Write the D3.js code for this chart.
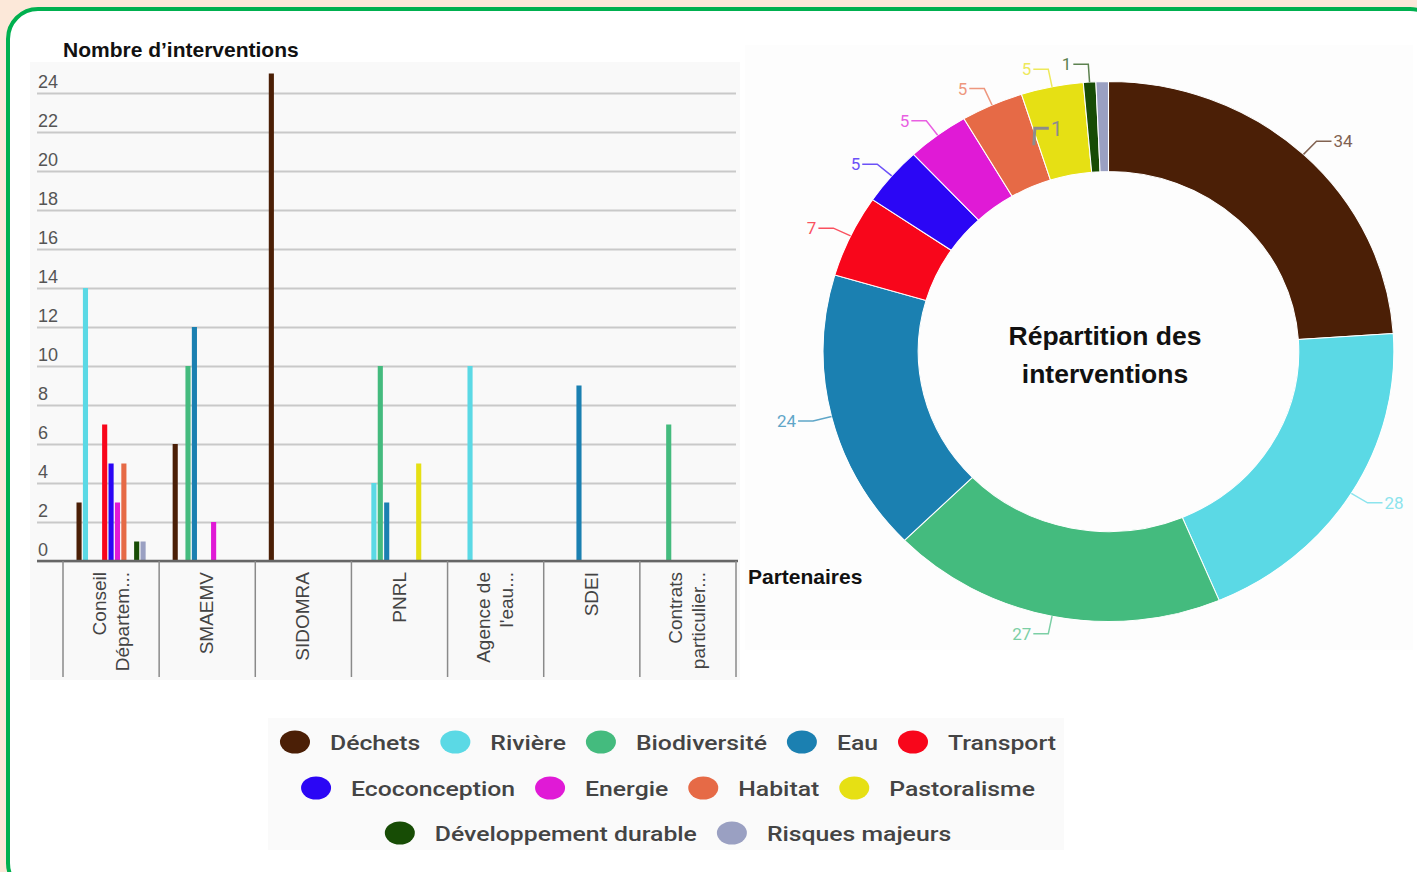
<!DOCTYPE html>
<html>
<head>
<meta charset="utf-8">
<script src="https://cdn.jsdelivr.net/npm/d3@7"></script>
<style>
  body { margin: 0; background: #fce8d9; }
  svg { display: block; }
</style>
</head>
<body>
<div id="chart"></div>
<script>
// partners on the x axis (labels as displayed, truncated)
const partners = ["Conseil Départem...", "SMAEMV", "SIDOMRA", "PNRL", "Agence de l'eau...", "SDEI", "Contrats particulier..."];

// themes (series) and their colours
const themes = ["Déchets", "Rivière", "Biodiversité", "Eau", "Transport", "Ecoconception",
  "Energie", "Habitat", "Pastoralisme", "Développement durable", "Risques majeurs"];
const colors = ["#4b1f06", "#5bd9e5", "#44bb7e", "#1b80b1", "#f8061b", "#2b06f5",
  "#e01ad6", "#e66a46", "#e6e014", "#174c05", "#9aa0c2"];

// interventions per theme, one value per partner
const dechets       = [3, 6, 25, 0, 0, 0, 0];
const riviere       = [14, 0, 0, 4, 10, 0, 0];
const biodiversite  = [0, 10, 0, 10, 0, 0, 7];
const eau           = [0, 12, 0, 3, 0, 9, 0];
const transport     = [7, 0, 0, 0, 0, 0, 0];
const ecoconception = [5, 0, 0, 0, 0, 0, 0];
const energie       = [3, 2, 0, 0, 0, 0, 0];
const habitat       = [5, 0, 0, 0, 0, 0, 0];
const pastoralisme  = [0, 0, 0, 5, 0, 0, 0];
const devDurable    = [1, 0, 0, 0, 0, 0, 0];
const risques       = [1, 0, 0, 0, 0, 0, 0];
const seriesValues = [dechets, riviere, biodiversite, eau, transport, ecoconception,
  energie, habitat, pastoralisme, devDurable, risques];

// donut totals (labels on the ring)
const totals = [34, 28, 27, 24, 7, 5, 5, 5, 5, 1, 1];

const yTicks = [0, 2, 4, 6, 8, 10, 12, 14, 16, 18, 20, 22, 24];
const legendRows = [[0, 1, 2, 3, 4], [5, 6, 7, 8], [9, 10]];

const W = 1417, H = 872;
const svg = d3.select("#chart").append("svg")
  .attr("width", W)
  .attr("height", H);

// frame
svg.append("rect").attr("width", W).attr("height", H).attr("fill", "#fce8d9");
svg.append("rect")
  .attr("x", 8).attr("y", 9)
  .attr("width", 1432).attr("height", 884)
  .attr("rx", 30)
  .attr("fill", "#fff")
  .attr("stroke", "#00b04f")
  .attr("stroke-width", 4);

// faint panel backgrounds
svg.append("rect").attr("x", 30).attr("y", 62).attr("width", 710).attr("height", 618).attr("fill", "#f9f9f9");
svg.append("rect").attr("x", 745).attr("y", 45).attr("width", 668).attr("height", 605).attr("fill", "#fdfdfd");
svg.append("rect").attr("x", 268).attr("y", 718).attr("width", 796).attr("height", 132).attr("fill", "#fafafa");

// ---------- bar chart ----------
const x = d3.scaleBand().domain(partners).range([63, 736]);
const xs = d3.scaleBand().domain(themes)
  .range([13.5, x.bandwidth() - 13.5])
  .paddingInner(0.2);
const y = d3.scaleLinear().domain([0, 24]).range([561, 93]);

// gridlines + tick labels
const yAxis = svg.append("g")
  .attr("transform", "translate(37,0)")
  .call(d3.axisRight(y).tickValues(yTicks).tickSize(699));
yAxis.select(".domain").remove();
yAxis.selectAll(".tick line")
  .attr("stroke", "#c9c9c9")
  .attr("stroke-width", 2);
yAxis.selectAll(".tick text")
  .attr("x", 1)
  .attr("y", -6)
  .attr("dy", 0)
  .attr("text-anchor", "start")
  .attr("fill", "#555")
  .style("font-family", "Arial, 'Liberation Sans', sans-serif")
  .style("font-size", "18px");

// bars
const barData = [];
themes.forEach((t, i) => {
  seriesValues[i].forEach((v, j) => {
    if (v > 0) barData.push({ theme: t, partner: partners[j], value: v, color: colors[i] });
  });
});

svg.append("g").selectAll("rect")
  .data(barData)
  .enter()
  .append("rect")
  .attr("x", d => x(d.partner) + xs(d.theme))
  .attr("y", d => y(d.value))
  .attr("width", xs.bandwidth())
  .attr("height", d => y(0) - y(d.value))
  .attr("fill", d => d.color);

// x axis line and separators
svg.append("line")
  .attr("x1", 37).attr("x2", 738)
  .attr("y1", y(0)).attr("y2", y(0))
  .attr("stroke", "#666")
  .attr("stroke-width", 2.5);

const seps = partners.map(p => x(p)).concat([x.range()[1]]);
svg.append("g").selectAll("line")
  .data(seps)
  .enter()
  .append("line")
  .attr("x1", d => d).attr("x2", d => d)
  .attr("y1", y(0)).attr("y2", 677)
  .attr("stroke", "#8a8a8a")
  .attr("stroke-width", 1.5);

// partner labels, rotated and wrapped
function wrapWords(label, maxW, measure) {
  const words = label.split(" ");
  const lines = [];
  let cur = "";
  words.forEach(w => {
    const test = cur ? cur + " " + w : w;
    if (cur && measure(test) > maxW) { lines.push(cur); cur = w; }
    else cur = test;
  });
  lines.push(cur);
  return lines;
}

const measurer = svg.append("text")
  .style("font-family", "Arial, 'Liberation Sans', sans-serif")
  .style("font-size", "19px");
const measure = s => { measurer.text(s); return measurer.node().getComputedTextLength(); };

partners.forEach(p => {
  const lines = wrapWords(p, 96, measure);
  const cx = x(p) + x.bandwidth() / 2;
  const lh = 23;
  lines.forEach((ln, k) => {
    const bx = cx + 6 + (k - (lines.length - 1) / 2) * lh;
    svg.append("text")
      .attr("transform", `translate(${bx},572) rotate(-90)`)
      .attr("text-anchor", "end")
      .attr("fill", "#444")
      .style("font-family", "Arial, 'Liberation Sans', sans-serif")
      .style("font-size", "19px")
      .text(ln);
  });
});
measurer.remove();

svg.append("text")
  .attr("x", 63).attr("y", 57)
  .attr("fill", "#111")
  .style("font-family", "Arial, 'Liberation Sans', sans-serif")
  .style("font-size", "21px")
  .style("font-weight", "bold")
  .text("Nombre d’interventions");

svg.append("text")
  .attr("x", 748).attr("y", 584)
  .attr("fill", "#111")
  .style("font-family", "Arial, 'Liberation Sans', sans-serif")
  .style("font-size", "21px")
  .style("font-weight", "bold")
  .text("Partenaires");

// ---------- donut ----------
const cx = 1108.5, cy = 351.5, sx = 1.057;
const rIn = 180, rOut = 270;

const pie = d3.pie().sort(null).value(d => d.value);
const arcs = pie(themes.map((t, i) => ({ theme: t, value: totals[i], color: colors[i] })));
const arc = d3.arc().innerRadius(rIn).outerRadius(rOut);

svg.append("g")
  .attr("transform", `translate(${cx},${cy}) scale(${sx},1)`)
  .selectAll("path")
  .data(arcs)
  .enter()
  .append("path")
  .attr("d", arc)
  .attr("fill", d => d.data.color)
  .attr("stroke", "#fff")
  .attr("stroke-width", 1);

const pt = (ang, r) => [cx + sx * r * Math.sin(ang), cy - r * Math.cos(ang)];

// small slice whose label is pushed inside the ring
const insideLabels = { "Risques majeurs": { angle: -0.33, r0: 218, r1: 236 } };

const labelG = svg.append("g");
arcs.forEach(a => {
  const ov = insideLabels[a.data.theme];
  let p0, p1, p2, anchor, col, fs, sw;
  if (ov) {
    p0 = pt(ov.angle, ov.r0);
    p1 = [p0[0] + 1, pt(ov.angle, ov.r1)[1]];
    p2 = [p1[0] + 14, p1[1]];
    anchor = "start";
    col = "#8c8c8c"; fs = 21; sw = 3;
  } else {
    const mid = (a.startAngle + a.endAngle) / 2;
    p0 = pt(mid, rOut);
    p1 = pt(mid, rOut + 18);
    const right = Math.sin(mid) >= 0;
    p2 = [p1[0] + (right ? 15 : -15), p1[1]];
    anchor = right ? "start" : "end";
    col = d3.interpolateRgb(a.data.color, "#fff")(0.3);
    fs = 17; sw = 1.5;
  }
  labelG.append("path")
    .attr("d", d3.line()([p0, p1, p2]))
    .attr("fill", "none")
    .attr("stroke", col)
    .attr("stroke-width", sw);
  labelG.append("text")
    .attr("x", p2[0] + (anchor === "start" ? 2 : -2))
    .attr("y", p2[1])
    .attr("dy", "0.35em")
    .attr("text-anchor", anchor)
    .attr("fill", col)
    .style("font-family", "Roboto, sans-serif")
    .style("font-size", fs + "px")
    .text(a.data.value);
});

// centre title
const title = svg.append("text")
  .attr("text-anchor", "middle")
  .attr("fill", "#111")
  .style("font-family", "Arial, 'Liberation Sans', sans-serif")
  .style("font-size", "26.5px")
  .style("font-weight", "bold");
title.append("tspan").attr("x", 1105).attr("y", 345).text("Répartition des");
title.append("tspan").attr("x", 1105).attr("y", 383).text("interventions");

// ---------- legend ----------
const legendY = [742, 788, 833];
const legendCx = 668;
const stretch = 1.18;
legendRows.forEach((row, r) => {
  const g = svg.append("g");
  let pos = 0;
  row.forEach(i => {
    g.append("ellipse")
      .attr("cx", pos + 15).attr("cy", legendY[r])
      .attr("rx", 15).attr("ry", 11.5)
      .attr("fill", colors[i]);
    const t = g.append("text")
      .attr("transform", `translate(${pos + 50},${legendY[r]}) scale(${stretch},1)`)
      .attr("dy", "0.36em")
      .attr("fill", "#444")
      .style("font-family", "Roboto, sans-serif")
      .style("font-size", "21px")
      .style("font-weight", 500)
      .text(themes[i]);
    pos += 50 + t.node().getComputedTextLength() * stretch + 20;
  });
  const rowW = pos - 20;
  g.attr("transform", `translate(${legendCx - rowW / 2},0)`);
});
</script>
</body>
</html>
